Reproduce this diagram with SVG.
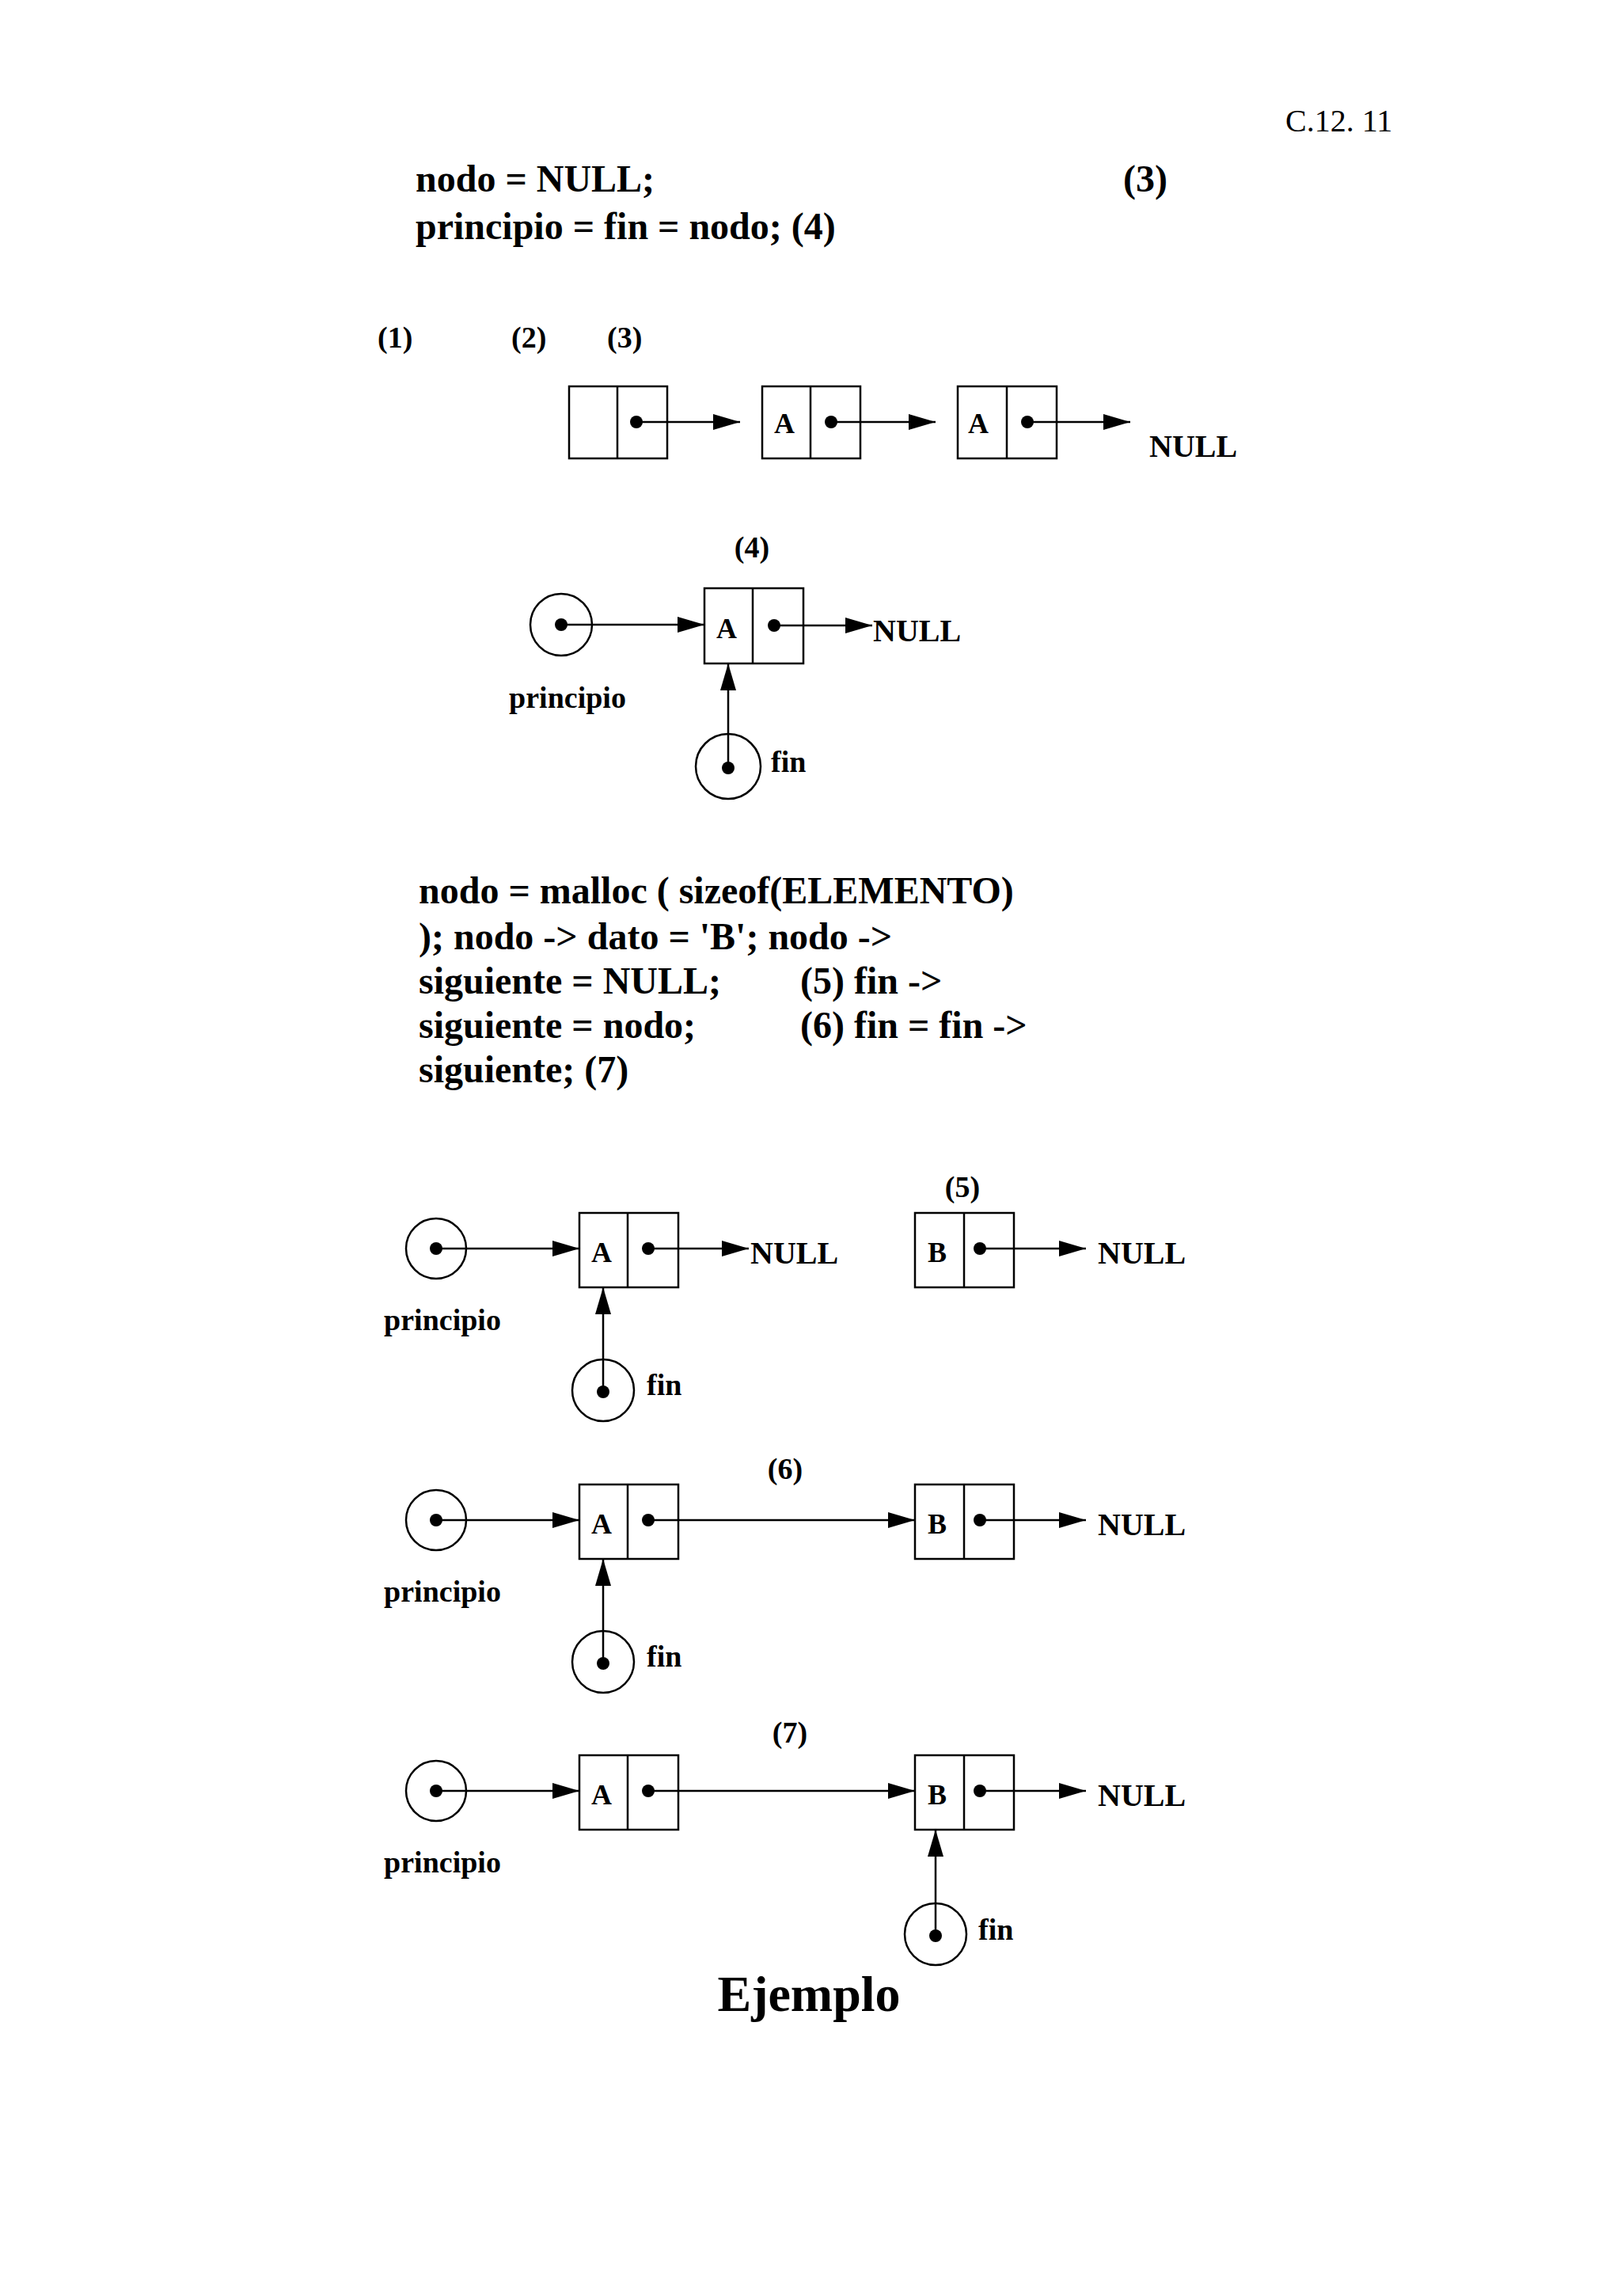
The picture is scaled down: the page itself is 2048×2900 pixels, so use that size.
<svg xmlns="http://www.w3.org/2000/svg" width="2048" height="2900" viewBox="0 0 2048 2900">
<style>
text{font-family:"Liberation Serif","Times New Roman",serif;font-weight:bold;fill:#000}
.c{font-size:48px}.s{font-size:38px}.n{font-size:40px}.l{font-size:36px}
.b{fill:#fff;stroke:#000;stroke-width:2.5}
.e{stroke:#000;stroke-width:2.5;fill:none}
</style>
<defs>
<marker id="ah" markerWidth="34" markerHeight="20" refX="34" refY="10" orient="auto" markerUnits="userSpaceOnUse"><path d="M0,0 L34,10 L0,20 Z" fill="#000"/></marker>
</defs>
<rect width="2048" height="2900" fill="#fff"/>
<text x="1624" y="166" style="font-size:40px;font-weight:normal">C.12. 11</text>
<text class="c" x="525" y="242">nodo = NULL;</text>
<text class="c" x="1419" y="242">(3)</text>
<text class="c" x="525" y="302">principio = fin = nodo;  (4)</text>
<text class="s" x="477" y="439">(1)</text>
<text class="s" x="646" y="439">(2)</text>
<text class="s" x="767" y="439">(3)</text>
<g id="r1n1"><rect class="b" x="719" y="488" width="124" height="91"/><line class="e" x1="780" y1="488" x2="780" y2="579"/><circle cx="804" cy="533" r="8"/></g>
<g id="r1n2"><rect class="b" x="963" y="488" width="124" height="91"/><line class="e" x1="1024" y1="488" x2="1024" y2="579"/><text class="l" x="991" y="547" text-anchor="middle">A</text><circle cx="1050" cy="533" r="8"/></g>
<g id="r1n3"><rect class="b" x="1210" y="488" width="125" height="91"/><line class="e" x1="1272" y1="488" x2="1272" y2="579"/><text class="l" x="1236" y="547" text-anchor="middle">A</text><circle cx="1298" cy="533" r="8"/></g>
<text class="n" x="1452" y="577">NULL</text>
<text class="s" x="950" y="704" text-anchor="middle">(4)</text>
<g id="s4p"><circle class="e" cx="709" cy="789" r="39"/><circle cx="709" cy="789" r="8"/><text class="s" x="717" y="894" text-anchor="middle">principio</text></g>
<g id="s4a"><rect class="b" x="890" y="743" width="125" height="95"/><line class="e" x1="951" y1="743" x2="951" y2="838"/><text class="l" x="918" y="806" text-anchor="middle">A</text><circle cx="978" cy="790" r="8"/></g>
<text class="n" x="1103" y="810">NULL</text>
<g id="s4f"><circle class="e" cx="920" cy="968" r="41"/><circle cx="920" cy="970" r="8"/><text class="s" x="974" y="975">fin</text></g>
<g id="connectors">
<line class="e" x1="804" y1="533" x2="935" y2="533" marker-end="url(#ah)"/>
<line class="e" x1="1050" y1="533" x2="1182" y2="533" marker-end="url(#ah)"/>
<line class="e" x1="1298" y1="533" x2="1428" y2="533" marker-end="url(#ah)"/>
<line class="e" x1="709" y1="789" x2="890" y2="789" marker-end="url(#ah)"/>
<line class="e" x1="978" y1="790" x2="1102" y2="790" marker-end="url(#ah)"/>
<line class="e" x1="920" y1="970" x2="920" y2="838" marker-end="url(#ah)"/>
</g>
<text class="c" x="529" y="1141">nodo = malloc ( sizeof(ELEMENTO)</text>
<text class="c" x="529" y="1199">); nodo -&gt; dato = 'B'; nodo -&gt;</text>
<text class="c" x="529" y="1255">siguiente = NULL;</text>
<text class="c" x="1011" y="1255">(5) fin -&gt;</text>
<text class="c" x="529" y="1311">siguiente = nodo;</text>
<text class="c" x="1011" y="1311">(6) fin = fin -&gt;</text>
<text class="c" x="529" y="1367">siguiente;   (7)</text>
<text class="s" x="1216" y="1512" text-anchor="middle">(5)</text>
<text class="s" x="992" y="1868" text-anchor="middle">(6)</text>
<text class="s" x="998" y="2201" text-anchor="middle">(7)</text>
<g id="s5p"><circle class="e" cx="551" cy="1577" r="38"/><circle cx="551" cy="1577" r="8"/><text class="s" x="559" y="1680" text-anchor="middle">principio</text></g>
<g id="s5a"><rect class="b" x="732" y="1532" width="125" height="94"/><line class="e" x1="793" y1="1532" x2="793" y2="1626"/><text class="l" x="760" y="1594" text-anchor="middle">A</text><circle cx="819" cy="1577" r="8"/></g>
<text class="n" x="948" y="1596">NULL</text>
<g id="s5f"><circle class="e" cx="762" cy="1756" r="39"/><circle cx="762" cy="1758" r="8"/><text class="s" x="817" y="1762">fin</text></g>
<g id="s5b"><rect class="b" x="1156" y="1532" width="125" height="94"/><line class="e" x1="1218" y1="1532" x2="1218" y2="1626"/><text class="l" x="1184" y="1594" text-anchor="middle">B</text><circle cx="1238" cy="1577" r="8"/></g>
<text class="n" x="1387" y="1596">NULL</text>
<g id="s6p"><circle class="e" cx="551" cy="1920" r="38"/><circle cx="551" cy="1920" r="8"/><text class="s" x="559" y="2023" text-anchor="middle">principio</text></g>
<g id="s6a"><rect class="b" x="732" y="1875" width="125" height="94"/><line class="e" x1="793" y1="1875" x2="793" y2="1969"/><text class="l" x="760" y="1937" text-anchor="middle">A</text><circle cx="819" cy="1920" r="8"/></g>
<g id="s6f"><circle class="e" cx="762" cy="2099" r="39"/><circle cx="762" cy="2101" r="8"/><text class="s" x="817" y="2105">fin</text></g>
<g id="s6b"><rect class="b" x="1156" y="1875" width="125" height="94"/><line class="e" x1="1218" y1="1875" x2="1218" y2="1969"/><text class="l" x="1184" y="1937" text-anchor="middle">B</text><circle cx="1238" cy="1920" r="8"/></g>
<text class="n" x="1387" y="1939">NULL</text>
<g id="s7p"><circle class="e" cx="551" cy="2262" r="38"/><circle cx="551" cy="2262" r="8"/><text class="s" x="559" y="2365" text-anchor="middle">principio</text></g>
<g id="s7a"><rect class="b" x="732" y="2217" width="125" height="94"/><line class="e" x1="793" y1="2217" x2="793" y2="2311"/><text class="l" x="760" y="2279" text-anchor="middle">A</text><circle cx="819" cy="2262" r="8"/></g>
<g id="s7b"><rect class="b" x="1156" y="2217" width="125" height="94"/><line class="e" x1="1218" y1="2217" x2="1218" y2="2311"/><text class="l" x="1184" y="2279" text-anchor="middle">B</text><circle cx="1238" cy="2262" r="8"/></g>
<text class="n" x="1387" y="2281">NULL</text>
<g id="s7f"><circle class="e" cx="1182" cy="2443" r="39"/><circle cx="1182" cy="2445" r="8"/><text class="s" x="1236" y="2450">fin</text></g>
<g id="connectors2">
<line class="e" x1="551" y1="1577" x2="732" y2="1577" marker-end="url(#ah)"/>
<line class="e" x1="819" y1="1577" x2="946" y2="1577" marker-end="url(#ah)"/>
<line class="e" x1="762" y1="1758" x2="762" y2="1626" marker-end="url(#ah)"/>
<line class="e" x1="1238" y1="1577" x2="1372" y2="1577" marker-end="url(#ah)"/>
<line class="e" x1="551" y1="1920" x2="732" y2="1920" marker-end="url(#ah)"/>
<line class="e" x1="819" y1="1920" x2="1156" y2="1920" marker-end="url(#ah)"/>
<line class="e" x1="762" y1="2101" x2="762" y2="1969" marker-end="url(#ah)"/>
<line class="e" x1="1238" y1="1920" x2="1372" y2="1920" marker-end="url(#ah)"/>
<line class="e" x1="551" y1="2262" x2="732" y2="2262" marker-end="url(#ah)"/>
<line class="e" x1="819" y1="2262" x2="1156" y2="2262" marker-end="url(#ah)"/>
<line class="e" x1="1238" y1="2262" x2="1372" y2="2262" marker-end="url(#ah)"/>
<line class="e" x1="1182" y1="2445" x2="1182" y2="2311" marker-end="url(#ah)"/>
</g>
<text x="1022" y="2540" text-anchor="middle" style="font-size:64px">Ejemplo</text>
</svg>
